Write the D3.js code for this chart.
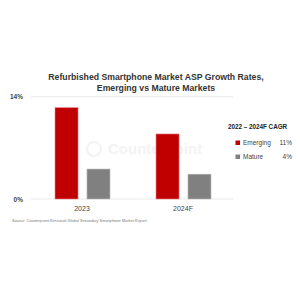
<!DOCTYPE html>
<html>
<head>
<meta charset="utf-8">
<script src="https://cdn.jsdelivr.net/npm/d3@7"></script>
<style>
  body { margin: 0; background: #fff; }
  svg text { font-family: "Liberation Sans", Arial, sans-serif; }
</style>
</head>
<body>
<svg id="chart" width="300" height="300"></svg>
<script>
// chart data
let years = ['2023', '2024F']
let series = ['Emerging', 'Mature']
let emerging = [12.5, 8.9]
let mature = [4.1, 3.4]
let cagr = ['11%', '4%']
let yTicks = [0, 14]

let colors = { Emerging: '#c00000', Mature: '#808080' }

let svg = d3.select('#chart')

svg.append('rect')
    .attr('width', 300)
    .attr('height', 300)
    .attr('fill', '#fff')

// Title
let title = svg.append('text')
    .attr('text-anchor', 'middle')
    .attr('font-weight', 'bold')
    .attr('font-size', 8.7)
    .attr('fill', '#333')
title.append('tspan').attr('x', 156).attr('y', 80).text('Refurbished Smartphone Market ASP Growth Rates,')
title.append('tspan').attr('x', 156).attr('y', 91).text('Emerging vs Mature Markets')

let x = d3.scaleBand()
    .domain(years)
    .range([31, 233])
    .paddingInner(0)
    .paddingOuter(0)

let xs = d3.scaleBand()
    .domain(series)
    .range([24, 79])
    .paddingInner(0.28)
    .paddingOuter(0)

let y = d3.scaleLinear()
    .domain([0, 14])
    .range([199, 96.7])

// Watermark
let wm = svg.append('g').attr('opacity', 0.5)
wm.append('circle')
    .attr('cx', 94).attr('cy', 149).attr('r', 7)
    .attr('fill', 'none').attr('stroke', '#e8e8e8').attr('stroke-width', 2.2)
wm.append('text')
    .attr('x', 108).attr('y', 154)
    .attr('font-size', 15)
    .attr('font-weight', 'bold')
    .attr('fill', '#e8e8e8')
    .text('Counterpoint')

// Gridlines
svg.selectAll('.grid')
    .data(yTicks)
    .enter().append('line')
    .attr('x1', 31).attr('x2', 233)
    .attr('y1', d => y(d)).attr('y2', d => y(d))
    .attr('stroke', '#e4e4e4')
    .attr('stroke-width', 0.8)

svg.selectAll('.ylab')
    .data(yTicks)
    .enter().append('text')
    .attr('x', 23)
    .attr('y', d => y(d) + 2.5)
    .attr('text-anchor', 'end')
    .attr('font-size', 6.5)
    .attr('font-weight', 'bold')
    .attr('fill', '#444')
    .text(d => d + '%')

// Bars
let rows = []
years.forEach((yr, i) => {
    rows.push({ year: yr, key: 'Emerging', value: emerging[i] })
    rows.push({ year: yr, key: 'Mature', value: mature[i] })
})

svg.selectAll('.bar')
    .data(rows)
    .enter().append('rect')
    .attr('x', d => x(d.year) + xs(d.key))
    .attr('width', xs.bandwidth())
    .attr('y', d => y(d.value))
    .attr('height', d => y(0) - y(d.value))
    .attr('fill', d => colors[d.key])
    .attr('stroke', d => d.key == 'Emerging' ? '#e88080' : '#bbb')
    .attr('stroke-width', 0.6)

// Category labels
svg.selectAll('.xlab')
    .data(years)
    .enter().append('text')
    .attr('x', d => x(d) + 51)
    .attr('y', 211)
    .attr('text-anchor', 'middle')
    .attr('font-size', 7)
    .attr('fill', '#444')
    .text(d => d)

// Legend
svg.append('text')
    .attr('x', 228).attr('y', 128.5)
    .attr('font-size', 6.3)
    .attr('font-weight', 'bold')
    .attr('fill', '#222')
    .text('2022 – 2024F CAGR')

let leg = svg.selectAll('.leg')
    .data(series)
    .enter().append('g')
    .attr('transform', (d, i) => 'translate(0,' + (143 + i * 14) + ')')

leg.append('rect')
    .attr('x', 235.5).attr('y', -2.5)
    .attr('width', 4.5).attr('height', 4.5)
    .attr('fill', d => colors[d])

leg.append('text')
    .attr('x', 243).attr('y', 2.3)
    .attr('font-size', 6.5)
    .attr('fill', '#444')
    .text(d => d)

leg.append('text')
    .attr('x', 292).attr('y', 2.3)
    .attr('text-anchor', 'end')
    .attr('font-size', 6.5)
    .attr('fill', '#444')
    .text((d, i) => cagr[i])

// Source
svg.append('text')
    .attr('x', 12).attr('y', 222)
    .attr('font-size', 3.9)
    .attr('font-style', 'italic')
    .attr('fill', '#777')
    .text('Source: Counterpoint Research Global Secondary Smartphone Market Report')
</script>
</body>
</html>
